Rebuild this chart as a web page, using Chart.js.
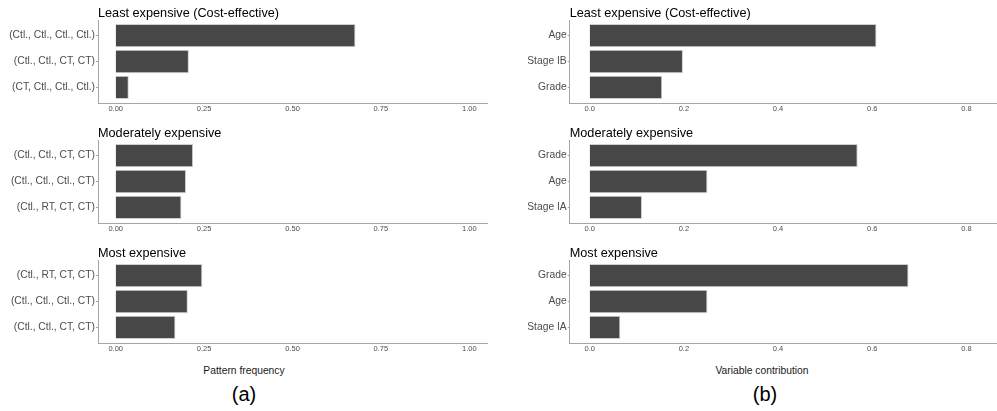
<!DOCTYPE html>
<html>
<head>
<meta charset="utf-8">
<script src="https://cdn.jsdelivr.net/npm/chart.js@4.4.0/dist/chart.umd.min.js"></script>
<style>
    html, body { margin: 0; padding: 0; width: 997px; height: 411px; overflow: hidden; background: #fff; }
    body { position: relative; font-family: 'Liberation Sans', Arial, sans-serif; }
    canvas { position: absolute; }
    .axis-title { position: absolute; font-size: 10.3px; line-height: 12px; color: #1a1a1a; transform: translateX(-50%); white-space: nowrap; }
    .panel-tag { position: absolute; font-size: 20px; line-height: 20px; color: #000; transform: translateX(-50%); }
</style>
</head>
<body>

<div class="axis-title" style="left:244px; top:365px;">Pattern frequency</div>
<div class="axis-title" style="left:762px; top:365px;">Variable contribution</div>
<div class="panel-tag" style="left:244px; top:384px;">(a)</div>
<div class="panel-tag" style="left:765px; top:384px;">(b)</div>

<script>
/* ---------- data ---------- */

const panelTitles = ['Least expensive (Cost-effective)', 'Moderately expensive', 'Most expensive'];

// (a) pattern frequency
const leastPatterns = ['(Ctl., Ctl., Ctl., Ctl.)', '(Ctl., Ctl., CT, CT)', '(CT, Ctl., Ctl., Ctl.)'];
const leastPatternFreq = [0.678, 0.207, 0.037];
const moderatePatterns = ['(Ctl., Ctl., CT, CT)', '(Ctl., Ctl., Ctl., CT)', '(Ctl., RT, CT, CT)'];
const moderatePatternFreq = [0.219, 0.199, 0.186];
const mostPatterns = ['(Ctl., RT, CT, CT)', '(Ctl., Ctl., Ctl., CT)', '(Ctl., Ctl., CT, CT)'];
const mostPatternFreq = [0.245, 0.204, 0.169];
const frequencyTicks = [0, 0.25, 0.5, 0.75, 1];

// (b) variable contribution
const leastVariables = ['Age', 'Stage IB', 'Grade'];
const leastContribution = [0.609, 0.198, 0.154];
const moderateVariables = ['Grade', 'Age', 'Stage IA'];
const moderateContribution = [0.569, 0.25, 0.111];
const mostVariables = ['Grade', 'Age', 'Stage IA'];
const mostContribution = [0.677, 0.25, 0.065];
const contributionTicks = [0, 0.2, 0.4, 0.6, 0.8];

/* ---------- layout ---------- */

const FONT = "'Liberation Sans', Arial, sans-serif";
const PLOT_TOPS = [20, 140, 260];
const PLOT_HEIGHT = 83;
const TOP_SPACE = 20;
const X_AXIS_HEIGHT = 16;

const columns = [
    {
        left: 0, width: 497, axisWidth: 98, padRight: 10,
        xMin: -0.05, xMax: 1.05, ticks: frequencyTicks, decimals: 2,
        panels: [
            { labels: leastPatterns, values: leastPatternFreq },
            { labels: moderatePatterns, values: moderatePatternFreq },
            { labels: mostPatterns, values: mostPatternFreq }
        ]
    },
    {
        left: 497, width: 513, axisWidth: 72.7, padRight: 0,
        xMin: -0.0425, xMax: 0.8925, ticks: contributionTicks, decimals: 1,
        panels: [
            { labels: leastVariables, values: leastContribution },
            { labels: moderateVariables, values: moderateContribution },
            { labels: mostVariables, values: mostContribution }
        ]
    }
];

/* ---------- panel title plugin ---------- */

const panelTitle = {
    id: 'panelTitle',
    afterDraw(chart, args, opts) {
        const { ctx, chartArea } = chart;
        ctx.save();
        ctx.font = `12.7px ${FONT}`;
        ctx.fillStyle = '#000';
        ctx.textAlign = 'left';
        ctx.textBaseline = 'alphabetic';
        ctx.fillText(opts.text, chartArea.left, chartArea.top - 3);
        ctx.restore();
    }
};

/* ---------- build ---------- */

function renderPanel(col, panel, row) {

    const canvas = document.createElement('canvas');
    const height = TOP_SPACE + PLOT_HEIGHT + X_AXIS_HEIGHT;
    canvas.width = col.width;
    canvas.height = height;
    canvas.style.left = col.left + 'px';
    canvas.style.top = (PLOT_TOPS[row] - TOP_SPACE) + 'px';
    canvas.style.width = col.width + 'px';
    canvas.style.height = height + 'px';
    document.body.appendChild(canvas);

    const points = panel.values.map((v, i) => ({ x: v, y: i }));

    new Chart(canvas, {
        type: 'bar',
        data: {
            datasets: [{
                data: points,
                backgroundColor: '#474747',
                borderColor: '#cfcfcf',
                borderWidth: 1,
                categoryPercentage: 1,
                barPercentage: 0.9
            }]
        },
        plugins: [panelTitle],
        options: {
            indexAxis: 'y',
            responsive: false,
            animation: false,
            events: [],
            layout: { padding: { top: TOP_SPACE, right: col.padRight, bottom: 0, left: 0 } },
            plugins: {
                legend: { display: false },
                tooltip: { enabled: false },
                panelTitle: { text: panelTitles[row] }
            },
            scales: {
                x: {
                    type: 'linear',
                    min: col.xMin,
                    max: col.xMax,
                    afterBuildTicks: (scale) => {
                        scale.ticks = col.ticks.map(v => ({ value: v }));
                    },
                    afterFit: (scale) => { scale.height = X_AXIS_HEIGHT; },
                    grid: { display: false, drawTicks: false },
                    border: { display: true, color: '#a6a6a6', width: 1 },
                    ticks: {
                        padding: 1,
                        color: '#4d4d4d',
                        font: { family: FONT, size: 7.5 },
                        maxRotation: 0,
                        callback: (v) => Number(v).toFixed(col.decimals)
                    }
                },
                y: {
                    type: 'linear',
                    reverse: true,
                    offset: false,
                    min: -0.6,
                    max: panel.labels.length - 0.4,
                    afterBuildTicks: (scale) => {
                        scale.ticks = panel.labels.map((l, i) => ({ value: i }));
                    },
                    afterFit: (scale) => { scale.width = col.axisWidth; },
                    grid: {
                        display: true,
                        offset: false,
                        drawOnChartArea: false,
                        drawTicks: true,
                        tickLength: 2,
                        color: '#a6a6a6'
                    },
                    border: { display: true, color: '#a6a6a6', width: 1 },
                    ticks: {
                        padding: 1,
                        color: '#4d4d4d',
                        font: { family: FONT, size: 10.3 },
                        callback: (v) => panel.labels[v]
                    }
                }
            }
        }
    });
}

columns.forEach(col => {
    col.panels.forEach((panel, row) => renderPanel(col, panel, row));
});
</script>
</body>
</html>
